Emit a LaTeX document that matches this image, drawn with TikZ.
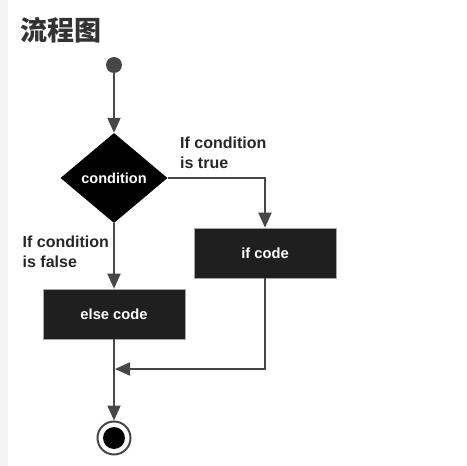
\documentclass[tikz,border=0pt]{standalone}
\usepackage{fontspec}
\setmainfont{Liberation Sans}
\newfontfamily\cjk{Noto Sans CJK SC}
\usetikzlibrary{shapes.geometric,arrows.meta}

\definecolor{linegray}{HTML}{474747}
\definecolor{boxblack}{HTML}{1F1F1F}
\definecolor{titlegray}{HTML}{333333}
\definecolor{stripgray}{HTML}{F4F4F4}

\tikzset{
  flow/.style={draw=linegray,line width=2pt,-{Triangle[length=15pt,width=13pt]}},
  codebox/.style={fill=boxblack,draw=gray!70,line width=.7pt,minimum width=142pt,minimum height=50pt,inner sep=0,text=white,font=\bfseries\fontsize{14.7}{17}\selectfont},
  branchtext/.style={anchor=north west,inner sep=0,align=left,text=black!85,font=\bfseries\fontsize{16}{20}\selectfont}
}

\begin{document}
\begin{tikzpicture}
[x=1pt,y=-1pt]
\useasboundingbox (0,0) rectangle (467,466);
\fill[stripgray] (0,0) rectangle (8,466);

\node[anchor=west,inner sep=0,text=titlegray,font=\fontsize{27}{30}\selectfont] (title) at (20.5,30) {\cjk\bfseries 流程图};

\node[circle,fill=linegray,minimum size=16pt,inner sep=0] (start) at (114,65) {};
\node[diamond,fill=black,minimum width=107pt,minimum height=90pt,inner sep=0,text=white,font=\bfseries\fontsize{14.5}{17}\selectfont] (cond) at (114,178) {condition};
\node[codebox] (ifcode) at (265,253) {if code};
\node[codebox] (elsecode) at (114,314) {else code};
\node[circle,draw=linegray,line width=2pt,fill=white,minimum size=33pt,inner sep=0] (stop) at (114,438) {};
\node[circle,fill=black,minimum size=22pt,inner sep=0] (stopdot) at (stop) {};
\coordinate (merge) at (115,369);

\node[branchtext] (truetext) at (180,136.5) {If condition\\is true};
\node[branchtext] (falsetext) at (22.5,235.5) {If condition\\is false};

\foreach \from/\to in {start/cond,cond/elsecode,elsecode/stop}
\draw[flow] (\from) -- (\to);
\draw[flow] (cond.east) -| (ifcode.north);
\draw[flow] (ifcode.south) |- (merge);
\end{tikzpicture}
\end{document}
